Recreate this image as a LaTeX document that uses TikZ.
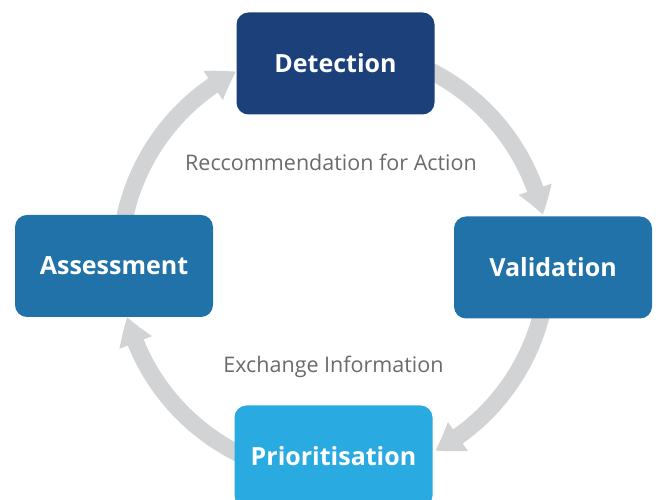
\documentclass[tikz,border=0pt]{standalone}
\usepackage{fontspec}
\setmainfont{Open Sans}
\usetikzlibrary{arrows.meta,bending}
\definecolor{navy}{RGB}{27,64,122}
\definecolor{midblue}{RGB}{33,114,169}
\definecolor{skyblue}{RGB}{41,170,225}
\definecolor{cyclegray}{RGB}{209,211,212}
\definecolor{labelgray}{RGB}{105,106,109}
\begin{document}
\begin{tikzpicture}[x=1pt,y=1pt,
  stage/.style={rounded corners=12pt, minimum width=198pt, minimum height=102pt,
    inner sep=0pt, text=white, font=\fontsize{25}{29}\selectfont\bfseries},
  cyclearrow/.style={line width=17pt, draw=cyclegray,
    -{Triangle[width=33pt,length=27pt,bend]}},
  note/.style={text=labelgray, font=\fontsize{21.5}{25}\selectfont}]
  \useasboundingbox (0,0) rectangle (659,500);
  \coordinate (ctr) at (334,238);
  % start points of the four arcs, hidden behind the boxes
  \path (ctr) ++(75:214) coordinate (s1)
        (ctr) ++(0:214) coordinate (s2)
        (ctr) ++(-100:214) coordinate (s3)
        (ctr) ++(180:214) coordinate (s4);
  \draw[cyclearrow] (s1) arc[start angle=75, end angle=12.7, radius=214];
  \draw[cyclearrow] (s2) arc[start angle=0, end angle=-61.8, radius=214];
  \draw[cyclearrow] (s3) arc[start angle=-100, end angle=-165.1, radius=214];
  \draw[cyclearrow] (s4) arc[start angle=180, end angle=117.2, radius=214];
  % the four stages
  \node[stage, fill=navy]    (det) at (335.5,436.5) {Detection};
  \node[stage, fill=midblue] (val) at (553,232.5)   {Validation};
  \node[stage, fill=skyblue] (pri) at (333.5,43.5)  {Prioritisation};
  \node[stage, fill=midblue] (ass) at (114,234)     {Assessment};
  % inner captions
  \node[note] (rec) at (331,338) {Reccommendation for Action};
  \node[note] (exc) at (333.5,133) {Exchange Information};
\end{tikzpicture}
\end{document}
